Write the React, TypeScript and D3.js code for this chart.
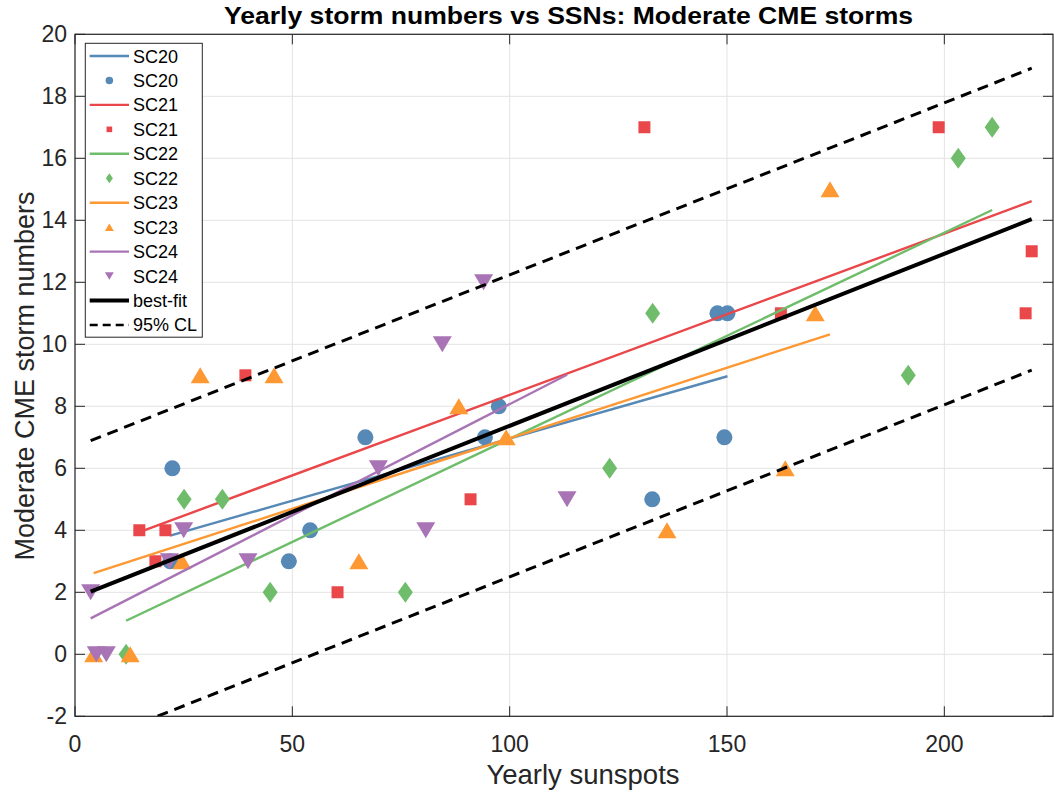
import React from "react";
import * as d3 from "d3";

const W = 1054;
const H = 793;

// data
const sc20X = [22.4, 21.9, 49.2, 54.1, 66.8, 94.3, 97.5, 132.8, 147.8, 150.1, 149.4];
const sc20Y = [6, 3, 3, 4, 7, 7, 8, 5, 11, 11, 7];
const sc21X = [14.8, 20.8, 18.5, 39.2, 60.4, 91.0, 131.0, 162.4, 198.7, 220.1, 218.7];
const sc21Y = [4, 4, 3, 9, 2, 5, 17, 11, 17, 13, 11];
const sc22X = [11.75, 25.1, 33.9, 44.9, 76.0, 123.0, 132.9, 191.7, 203.2, 211.0];
const sc22Y = [0, 5, 5, 2, 2, 6, 11, 9, 16, 17];
const sc23X = [4.3, 12.7, 24.6, 28.8, 45.8, 65.3, 88.3, 99.2, 136.2, 163.4, 170.3, 173.7];
const sc23Y = [0, 0, 3, 9, 9, 3, 8, 7, 4, 6, 11, 15];
const sc24X = [3.6, 4.9, 7.2, 21.7, 25.0, 39.8, 69.8, 80.7, 84.5, 94.0, 113.2];
const sc24Y = [2, 0, 0, 3, 4, 3, 6, 4, 10, 12, 5];

// fitted lines (slope, intercept)
const fitSlopes = [0.0401, 0.052, 0.0665, 0.0455, 0.0717];
const fitIntercepts = [2.95, 3.17, 0.3, 2.42, 0.9];
const bestSlope = 0.0555;
const bestIntercept = 1.82;
const clOffset = 4.87;

const seriesNames = ["SC20", "SC21", "SC22", "SC23", "SC24"];
const seriesColors = ["#5689b6", "#e9474a", "#6fbd6b", "#fd9833", "#a974b5"];
const seriesShapes = ["circle", "square", "diamond", "triUp", "triDown"];

const xTicks = [0, 50, 100, 150, 200];
const yTicks = [-2, 0, 2, 4, 6, 8, 10, 12, 14, 16, 18, 20];

const title = "Yearly storm numbers vs SSNs: Moderate CME storms";
const xLabel = "Yearly sunspots";
const yLabel = "Moderate CME storm numbers";

const left = 75;
const right = 1053;
const top = 34.3;
const bottom = 716.3;

function markerPath(shape: string, s: number): string {
  switch (shape) {
    case "circle": {
      const r = 8 * s;
      return `M${-r},0A${r},${r} 0 1,0 ${r},0A${r},${r} 0 1,0 ${-r},0Z`;
    }
    case "square": {
      const h = 6 * s;
      return `M${-h},${-h}H${h}V${h}H${-h}Z`;
    }
    case "diamond": {
      const w = 7.5 * s;
      const h = 10.5 * s;
      return `M0,${-h}L${w},0L0,${h}L${-w},0Z`;
    }
    case "triUp": {
      const w = 9.5 * s;
      const h = 8 * s;
      return `M0,${-h}L${w},${h}L${-w},${h}Z`;
    }
    default: {
      const w = 9.5 * s;
      const h = 8 * s;
      return `M0,${h}L${w},${-h}L${-w},${-h}Z`;
    }
  }
}

export default function App() {
  const x = d3.scaleLinear().domain([0, 225]).range([left, right]);
  const y = d3.scaleLinear().domain([-2, 20]).range([bottom, top]);

  const xs = [sc20X, sc21X, sc22X, sc23X, sc24X];
  const ys = [sc20Y, sc21Y, sc22Y, sc23Y, sc24Y];

  const line = d3
    .line<[number, number]>()
    .x((d) => x(d[0]))
    .y((d) => y(d[1]));

  const allX = xs.flat();
  const minAll = d3.min(allX) as number;
  const maxAll = d3.max(allX) as number;

  const fitLine = (m: number, b: number, x0: number, x1: number, off = 0) =>
    line([
      [x0, m * x0 + b + off],
      [x1, m * x1 + b + off],
    ]) as string;

  const font = "'Liberation Sans', Arial, Helvetica, sans-serif";

  const elements: React.ReactNode[] = [];
  seriesNames.forEach((name, i) => {
    const sx = xs[i];
    const sy = ys[i];
    const x0 = d3.min(sx) as number;
    const x1 = d3.max(sx) as number;
    elements.push(
      <path
        key={`l${i}`}
        d={fitLine(fitSlopes[i], fitIntercepts[i], x0, x1)}
        stroke={seriesColors[i]}
        strokeWidth={2.4}
        fill="none"
      />
    );
    sx.forEach((xv, j) => {
      elements.push(
        <path
          key={`p${i}-${j}`}
          d={markerPath(seriesShapes[i], 1)}
          transform={`translate(${x(xv)},${y(sy[j])})`}
          fill={seriesColors[i]}
        />
      );
    });
  });

  const legX0 = 85.3;
  const legY0 = 43.3;
  const legW = 117;
  const rowH = 24.45;
  const legendRows: { label: string; kind: string; color: string; shape?: string }[] = [];
  seriesNames.forEach((n, i) => {
    legendRows.push({ label: n, kind: "line", color: seriesColors[i] });
    legendRows.push({ label: n, kind: "marker", color: seriesColors[i], shape: seriesShapes[i] });
  });
  legendRows.push({ label: "best-fit", kind: "best", color: "#000" });
  legendRows.push({ label: "95% CL", kind: "cl", color: "#000" });
  const legH = legendRows.length * rowH + 0.5;

  return (
    <svg
      width={W}
      height={H}
      style={{ position: "fixed", left: 0, top: 0, background: "#fff" }}
      fontFamily={font}
    >
      <rect x={0} y={0} width={W} height={H} fill="#fff" />
      <defs>
        <clipPath id="plotClip">
          <rect x={left} y={top} width={right - left} height={bottom - top} />
        </clipPath>
      </defs>
      {xTicks.map((t) => (
        <line key={`gx${t}`} x1={x(t)} x2={x(t)} y1={top} y2={bottom} stroke="#e3e3e3" strokeWidth={1} />
      ))}
      {yTicks.map((t) => (
        <line key={`gy${t}`} x1={left} x2={right} y1={y(t)} y2={y(t)} stroke="#e3e3e3" strokeWidth={1} />
      ))}
      {xTicks.map((t) => (
        <g key={`tx${t}`}>
          <line x1={x(t)} x2={x(t)} y1={bottom} y2={bottom - 10} stroke="#262626" strokeWidth={1} />
          <line x1={x(t)} x2={x(t)} y1={top} y2={top + 10} stroke="#262626" strokeWidth={1} />
          <text x={x(t)} y={bottom + 36} textAnchor="middle" fontSize={23} fill="#262626">
            {t}
          </text>
        </g>
      ))}
      {yTicks.map((t) => (
        <g key={`ty${t}`}>
          <line x1={left} x2={left + 10} y1={y(t)} y2={y(t)} stroke="#262626" strokeWidth={1} />
          <line x1={right - 10} x2={right} y1={y(t)} y2={y(t)} stroke="#262626" strokeWidth={1} />
          <text x={left - 8} y={y(t) + 8} textAnchor="end" fontSize={23} fill="#262626">
            {t}
          </text>
        </g>
      ))}
      <g clipPath="url(#plotClip)">
        {elements}
        <path d={fitLine(bestSlope, bestIntercept, minAll, maxAll)} stroke="#000" strokeWidth={4} fill="none" />
        <path
          d={fitLine(bestSlope, bestIntercept, minAll, maxAll, clOffset)}
          stroke="#000"
          strokeWidth={3}
          strokeDasharray="11,7"
          fill="none"
        />
        <path
          d={fitLine(bestSlope, bestIntercept, minAll, maxAll, -clOffset)}
          stroke="#000"
          strokeWidth={3}
          strokeDasharray="11,7"
          fill="none"
        />
      </g>
      <rect x={left} y={top} width={right - left} height={bottom - top} fill="none" stroke="#262626" strokeWidth={1.2} />
      <g>
        <rect x={legX0} y={legY0} width={legW} height={legH} fill="#fff" stroke="#262626" strokeWidth={1} />
        {legendRows.map((r, k) => {
          const cy = legY0 + 12.7 + k * rowH;
          const lx0 = 89.7;
          const lx1 = 129;
          let sym: React.ReactNode = null;
          if (r.kind === "line") {
            sym = <line x1={lx0} x2={lx1} y1={cy} y2={cy} stroke={r.color} strokeWidth={2.4} />;
          } else if (r.kind === "marker") {
            sym = (
              <path d={markerPath(r.shape as string, 0.47)} transform={`translate(${(lx0 + lx1) / 2},${cy})`} fill={r.color} />
            );
          } else if (r.kind === "best") {
            sym = <line x1={lx0} x2={lx1} y1={cy} y2={cy} stroke="#000" strokeWidth={4} />;
          } else {
            sym = <line x1={lx0} x2={lx1} y1={cy} y2={cy} stroke="#000" strokeWidth={2.5} strokeDasharray="8,5" />;
          }
          return (
            <g key={`lg${k}`}>
              {sym}
              <text x={133} y={cy + 6.5} fontSize={18} fill="#000">
                {r.label}
              </text>
            </g>
          );
        })}
      </g>
      <text x={568.5} y={24} textAnchor="middle" fontSize={23} fontWeight="bold" fill="#000" textLength={689} lengthAdjust="spacingAndGlyphs">
        {title}
      </text>
      <text x={583} y={784} textAnchor="middle" fontSize={27.5} fill="#262626">
        {xLabel}
      </text>
      <text transform={`translate(34,${376}) rotate(-90)`} textAnchor="middle" fontSize={27} fill="#262626">
        {yLabel}
      </text>
    </svg>
  );
}
